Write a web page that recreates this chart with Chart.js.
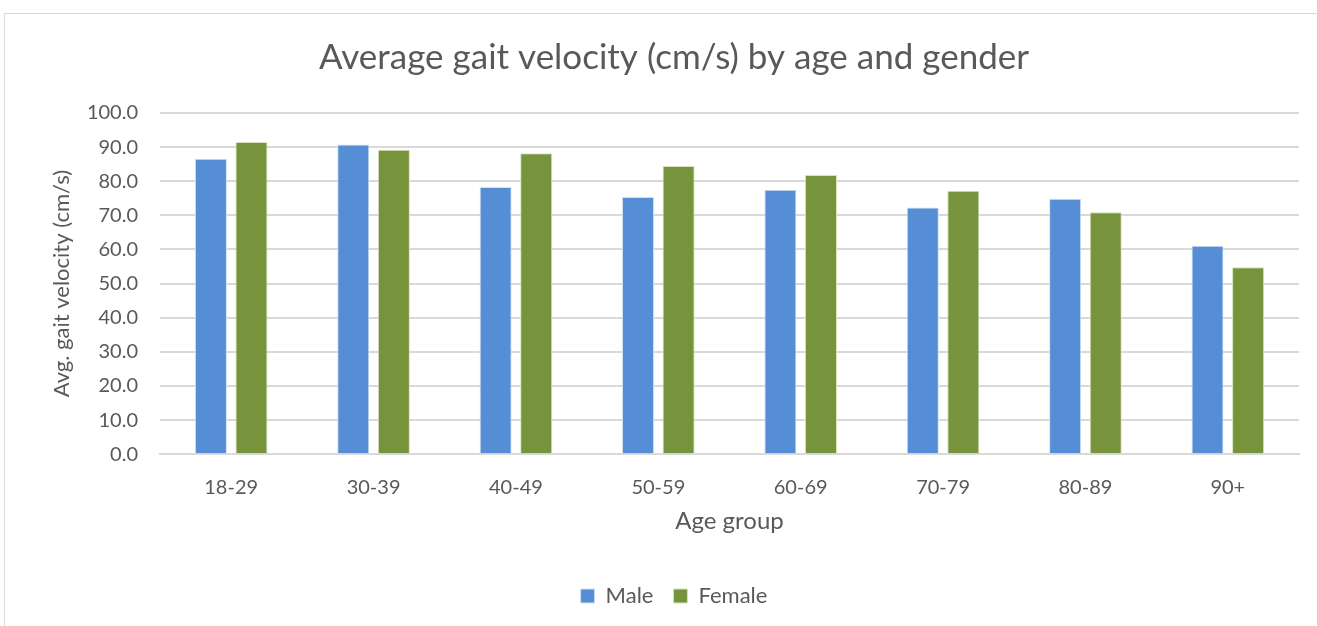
<!DOCTYPE html>
<html>
<head>
<meta charset="utf-8">
<script src="https://cdn.jsdelivr.net/npm/chart.js@4"></script>
<style>
    html, body { margin: 0; padding: 0; background: #fff; overflow: hidden; }
    #frame { position: absolute; left: 4px; top: 13px; width: 1320px; height: 620px; border: 1px solid #d9d9d9; }
    #wrap { position: absolute; left: 0; top: 0; width: 1317px; height: 626px; }
</style>
</head>
<body>
<div id="frame"></div>
<div id="wrap"><canvas id="myChart"></canvas></div>
<script>
const ageGroups = ['18-29', '30-39', '40-49', '50-59', '60-69', '70-79', '80-89', '90+'];
const maleValues = [86.6, 90.8, 78.3, 75.4, 77.5, 72.3, 74.9, 61.1];
const femaleValues = [91.5, 89.2, 88.2, 84.5, 81.8, 77.2, 70.9, 54.8];
const yTicks = [0, 10, 20, 30, 40, 50, 60, 70, 80, 90, 100];

const textColor = '#595959';
const fontFamily = 'Lato, "Open Sans", sans-serif';

const ctx = document.getElementById('myChart').getContext('2d');
const myChart = new Chart(ctx, {
    type: 'bar',
    data: {
        labels: ageGroups,
        datasets: [
            {
                label: 'Male',
                data: maleValues,
                backgroundColor: '#558ed5',
                borderColor: '#cfe0f5',
                borderWidth: 1,
                barPercentage: 0.79,
                categoryPercentage: 0.57
            },
            {
                label: 'Female',
                data: femaleValues,
                backgroundColor: '#77933c',
                borderColor: '#d6e3bd',
                borderWidth: 1,
                barPercentage: 0.79,
                categoryPercentage: 0.57
            }
        ]
    },
    options: {
        responsive: true,
        maintainAspectRatio: false,
        animation: false,
        layout: {
            padding: { left: 49, right: 18, top: 30, bottom: 9 }
        },
        plugins: {
            title: {
                display: true,
                text: 'Average gait velocity (cm/s) by age and gender',
                color: textColor,
                font: { family: fontFamily, size: 35, weight: 'normal' },
                padding: { top: 7, bottom: 34 }
            },
            legend: {
                position: 'bottom',
                labels: {
                    color: textColor,
                    font: { family: fontFamily, size: 22 },
                    boxWidth: 14,
                    boxHeight: 14,
                    padding: 20
                }
            },
            tooltip: { enabled: false }
        },
        scales: {
            x: {
                grid: { display: false },
                border: { color: '#d9d9d9', width: 2 },
                ticks: {
                    color: textColor,
                    font: { family: fontFamily, size: 20 },
                    padding: 13
                },
                title: {
                    display: true,
                    text: 'Age group',
                    color: textColor,
                    font: { family: fontFamily, size: 24 },
                    padding: { top: -5, bottom: 29 }
                }
            },
            y: {
                min: 0,
                max: 100,
                afterBuildTicks: (scale) => {
                    scale.ticks = yTicks.map(v => ({ value: v }));
                },
                afterFit: (scale) => {
                    scale.width = 111;
                },
                grid: { color: '#d9d9d9', lineWidth: 2, drawTicks: false },
                border: { display: false },
                ticks: {
                    color: textColor,
                    font: { family: fontFamily, size: 20 },
                    padding: 22,
                    callback: (v) => Number(v).toFixed(1)
                },
                title: {
                    display: true,
                    text: 'Avg. gait velocity (cm/s)',
                    color: textColor,
                    font: { family: fontFamily, size: 22 },
                    padding: { top: 0, bottom: 8 }
                }
            }
        }
    }
});
</script>
</body>
</html>
